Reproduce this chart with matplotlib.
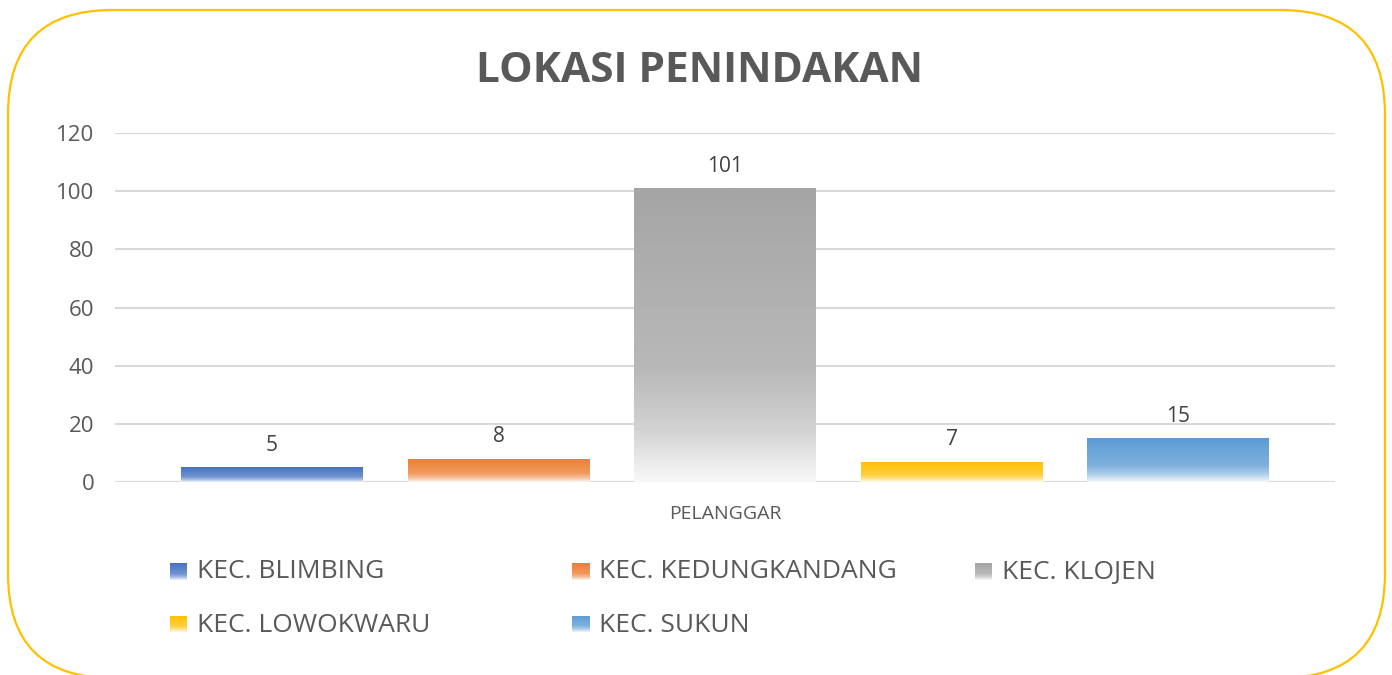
import numpy as np
import matplotlib
matplotlib.use("Agg")
import matplotlib.pyplot as plt
from matplotlib.patches import FancyBboxPatch
from matplotlib.colors import to_rgb

categories = ["KEC. BLIMBING", "KEC. KEDUNGKANDANG", "KEC. KLOJEN", "KEC. LOWOKWARU", "KEC. SUKUN"]
values = [5, 8, 101, 7, 15]
colors = ["#4472C4", "#ED7D31", "#A5A5A5", "#FFC000", "#5B9BD5"]
yticks = [0, 20, 40, 60, 80, 100, 120]
xlabel = "PELANGGAR"
title = "LOKASI PENINDAKAN"

plt.rcParams['font.family'] = ['Open Sans', 'DejaVu Sans']
TXT = "#595959"

W, H = 1392, 675
fig = plt.figure(figsize=(W/100, H/100), dpi=100)
fig.patch.set_facecolor("white")

# rounded border
border = FancyBboxPatch((8/W, -3/H), (1385-8)/W, (H-10+3)/H,
                        boxstyle="round,pad=0,rounding_size=0.075",
                        transform=fig.transFigure, fill=False,
                        edgecolor="#FFC000", linewidth=1.6, mutation_aspect=W/H)
fig.add_artist(border)

ax = fig.add_axes([115/W, 1-482/H, (1335-115)/W, (482-133)/H])
ax.set_facecolor("none")
for s in ax.spines.values():
    s.set_visible(False)

def gradient_img(c):
    r = np.array(to_rgb(c))
    w = np.array([1.0, 1.0, 1.0])
    t = np.linspace(0, 1, 256)  # 0 top -> 1 bottom
    stops_t = [0.0, 0.62, 0.82, 1.0]
    stops_b = [0.0, 0.22, 0.5, 0.93]
    b = np.interp(t, stops_t, stops_b)
    img = r[None, :] * (1 - b[:, None]) + w[None, :] * b[:, None]
    return img[:, None, :]

x = np.arange(len(categories))
width = 0.80
bars = ax.bar(x, values, width=width, color="none", edgecolor="none", zorder=3)
for bar, c, v in zip(bars, colors, values):
    x0 = bar.get_x()
    im = ax.imshow(gradient_img(c), extent=[x0, x0 + bar.get_width(), 0, v],
                   aspect='auto', zorder=3, interpolation='bilinear')
    im.set_clip_path(bar)
    ax.text(bar.get_x() + bar.get_width()/2, v + 4.0, str(v), ha='center', va='bottom',
            fontsize=15, color="#404040")

ax.set_xlim(-0.693, len(categories) - 1 + 0.693)
ax.set_ylim(0, 120)
ax.set_yticks(yticks)
ax.set_yticklabels([str(t) for t in yticks], fontsize=16, color=TXT)
ax.tick_params(axis='y', length=0, pad=15)
ax.set_xticks([])
ax.yaxis.grid(True, color="#D9D9D9", linewidth=1.5, zorder=0)
ax.set_axisbelow(True)
ax.axhline(0, color="#D9D9D9", linewidth=1.5, zorder=2)

fig.text(725/W, 1-514/H, xlabel, ha='center', va='center', fontsize=14, color=TXT)
fig.text(700/W, 1-72/H, title, ha='center', va='center', fontsize=30.5,
         fontweight='bold', color=TXT)

# legend (manual, gradient squares)
leg_pos = [(170, 571), (572, 571), (975, 571), (170, 624), (572, 624)]
sq = 17
for (lx, ly), c, name in zip(leg_pos, colors, categories):
    lax = fig.add_axes([lx/W, 1-(ly+sq/2)/H, sq/W, sq/H])
    lax.imshow(gradient_img(c), aspect='auto', extent=[0, 1, 0, 1], interpolation='bilinear')
    lax.set_axis_off()
    fig.text((lx + 27)/W, 1-(ly+1)/H, name, ha='left', va='center', fontsize=19, color=TXT)

fig.savefig("out.png", dpi=100, facecolor="white")
